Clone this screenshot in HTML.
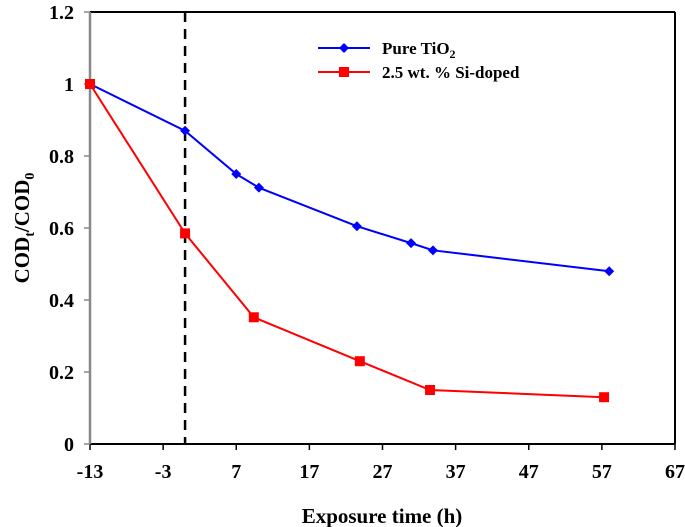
<!DOCTYPE html>
<html><head><meta charset="utf-8"><style>body{margin:0;background:#fff}svg{display:block}text{font-family:"Liberation Serif",serif;font-weight:bold}</style></head>
<body>
<svg id="chart" width="685" height="527" xmlns="http://www.w3.org/2000/svg"></svg>
<script>
const xTicks=[-13,-3,7,17,27,37,47,57,67];
const yTicks=[0,0.2,0.4,0.6,0.8,1,1.2];
const yTickLabels=["0","0.2","0.4","0.6","0.8","1","1.2"];
const pureX=[-13,0,7,10.1,23.5,30.9,33.9,58];
const pureY=[1,0.87,0.75,0.712,0.605,0.558,0.538,0.48];
const siX=[-13,0,9.4,23.9,33.5,57.3];
const siY=[1,0.585,0.352,0.23,0.15,0.13];
const dashX=0;
const L=90,R=675,T=12,B=444;
const sx=v=>L+(v+13)/80*(R-L);
const sy=v=>B-v/1.2*(B-T);
const svg=document.getElementById('chart');
const NS='http://www.w3.org/2000/svg';
function mk(tag,attrs,txt){const e=document.createElementNS(NS,tag);for(const k in attrs)e.setAttribute(k,attrs[k]);if(txt!==undefined)e.textContent=txt;svg.appendChild(e);return e;}
let e;
e=mk('line',{x1:L,y1:T,x2:R,y2:T,stroke:'#000','stroke-width':2});


e=mk('line',{x1:R,y1:T,x2:R,y2:B,stroke:'#000','stroke-width':2});


e=mk('line',{x1:L,y1:B,x2:R,y2:B,stroke:'#000','stroke-width':2});


e=mk('line',{x1:L,y1:T,x2:L,y2:B,stroke:'#888','stroke-width':2.5});


xTicks.forEach(v=>{
 e=mk('line',{x1:sx(v),y1:B,x2:sx(v),y2:B+6,stroke:'#000','stroke-width':1.5});
 
 
 e=mk('text',{x:sx(v),y:B+34,'text-anchor':'middle','font-size':20},String(v));
 
 
});
yTicks.forEach((v,i)=>{
 e=mk('line',{x1:L-6,y1:sy(v),x2:L,y2:sy(v),stroke:'#888','stroke-width':1.5});
 
 
 e=mk('text',{x:74,y:sy(v)+7,'text-anchor':'end','font-size':20},yTickLabels[i]);
 
 
});
e=mk('line',{x1:sx(dashX),y1:T,x2:sx(dashX),y2:B,stroke:'#000','stroke-width':2.5,'stroke-dasharray':'10,7'});


e=mk('polyline',{points:pureX.map((x,i)=>sx(x)+','+sy(pureY[i])).join(' '),fill:'none',stroke:'#0000ff','stroke-width':2});


pureX.forEach((x,i)=>{const cx=sx(x),cy=sy(pureY[i]);
 e=mk('polygon',{points:`${cx},${cy-5} ${cx+5},${cy} ${cx},${cy+5} ${cx-5},${cy}`,fill:'#0000ff'});
 
 });
e=mk('polyline',{points:siX.map((x,i)=>sx(x)+','+sy(siY[i])).join(' '),fill:'none',stroke:'#ff0000','stroke-width':2});


siX.forEach((x,i)=>{const cx=sx(x),cy=sy(siY[i]);
 e=mk('rect',{x:cx-5,y:cy-5,width:10,height:10,fill:'#ff0000'});
 
 });
e=mk('line',{x1:318,y1:48,x2:370,y2:48,stroke:'#0000ff','stroke-width':2});


e=mk('polygon',{points:'344,43 349,48 344,53 339,48',fill:'#0000ff'});


e=mk('text',{x:382,y:54,'font-size':17});


e.innerHTML='Pure TiO<tspan font-size="12" dy="4">2</tspan>';
e=mk('line',{x1:318,y1:72,x2:370,y2:72,stroke:'#ff0000','stroke-width':2});


e=mk('rect',{x:339,y:67,width:10,height:10,fill:'#ff0000'});


e=mk('text',{x:382,y:78,'font-size':17},'2.5 wt. % Si-doped');


e=mk('text',{x:382,y:523,'text-anchor':'middle','font-size':21},'Exposure time (h)');


e=mk('text',{x:0,y:0,'text-anchor':'middle','font-size':21,transform:'translate(29,228) rotate(-90)'});


e.innerHTML='COD<tspan font-size="14" dy="5">t</tspan><tspan dy="-5">/COD</tspan><tspan font-size="14" dy="5">0</tspan>';
</script>
</body></html>
